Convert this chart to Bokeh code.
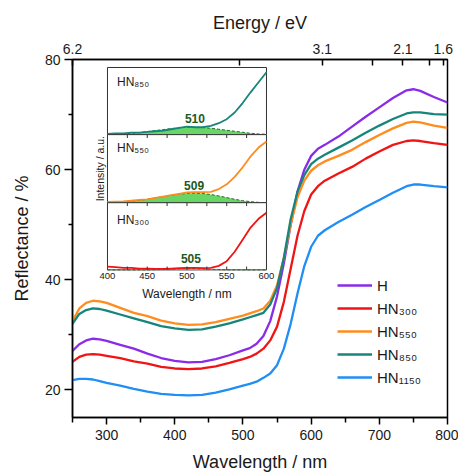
import math
from bokeh.plotting import figure
from bokeh.models import Range1d, LinearAxis, FixedTicker, Legend, LegendItem
from bokeh.core.properties import value
from bokeh.embed import file_html
from bokeh.resources import INLINE

# ---------------- main data ----------------
wavelength = [250, 260, 270, 280, 290, 300, 320, 340, 360, 380, 400, 420, 440, 460, 480,
              500, 510, 520, 530, 540, 550, 560, 570, 580, 590, 600, 610, 620, 640, 660,
              680, 700, 720, 740, 750, 760, 780, 800]

refl_H = [27.1, 28.3, 29.0, 29.3, 29.2, 28.9, 28.2, 27.5, 26.6, 25.8, 25.3, 25.0, 25.1, 25.6, 26.3,
          27.2, 27.6, 28.4, 29.8, 32.5, 37.0, 43.0, 50.0, 56.0, 60.0, 62.5, 63.8, 64.5, 66.0, 67.8,
          69.6, 71.3, 73.0, 74.4, 74.6, 74.3, 73.2, 72.2]
refl_HN300 = [25.1, 26.0, 26.4, 26.5, 26.4, 26.2, 25.8, 25.2, 24.8, 24.2, 23.9, 23.8, 23.9, 24.3, 24.9,
              25.6, 26.0, 26.6, 27.5, 29.0, 31.5, 36.0, 42.0, 48.0, 52.5, 55.5, 57.0, 58.0, 59.3, 60.5,
              62.0, 63.3, 64.5, 65.2, 65.3, 65.2, 64.8, 64.5]
refl_HN550 = [32.5, 34.8, 35.8, 36.2, 36.1, 35.8, 34.9, 34.0, 33.4, 32.6, 32.1, 31.8, 31.9, 32.3, 32.9,
              33.5, 33.9, 34.3, 34.8, 36.2, 39.0, 44.0, 50.0, 55.0, 58.0, 59.8, 60.8, 61.5, 62.5, 63.6,
              65.0, 66.3, 67.5, 68.5, 68.7, 68.6, 68.0, 67.6]
refl_HN850 = [32.0, 33.8, 34.5, 34.8, 34.7, 34.4, 33.7, 33.0, 32.3, 31.6, 31.2, 30.9, 31.0, 31.5, 32.1,
              32.8, 33.2, 33.6, 34.0, 35.5, 38.5, 44.0, 51.0, 56.0, 59.0, 61.0, 62.0, 62.7, 64.0, 65.3,
              66.7, 68.0, 69.2, 70.2, 70.4, 70.4, 70.1, 70.0]
refl_HN1150 = [21.8, 22.0, 22.0, 21.9, 21.6, 21.3, 20.8, 20.2, 19.7, 19.3, 19.1, 19.0, 19.1, 19.5, 20.1,
               20.8, 21.1, 21.5, 22.2, 23.0, 24.5, 27.5, 32.0, 37.5, 42.5, 46.0, 48.0, 49.0, 50.5, 51.8,
               53.2, 54.5, 55.8, 57.0, 57.3, 57.3, 57.0, 56.8]

series_labels = ["H", "HN₃₀₀", "HN₅₅₀", "HN₈₅₀", "HN₁₁₅₀"]
series_colors = ["#8a2be8", "#f01414", "#ff8c1e", "#17857a", "#1f8ef5"]
series_values = [refl_H, refl_HN300, refl_HN550, refl_HN850, refl_HN1150]

x_ticks = [300, 400, 500, 600, 700, 800]
x_minor = [250, 350, 450, 550, 650, 750]
y_ticks = [20, 40, 60, 80]
y_minor = [30, 50, 70]
energy_ticks = [6.2, 3.1, 2.1, 1.6]
energy_minor = [4.13, 2.48, 1.77]

# ---------------- inset data ----------------
inset_wl = [400, 410, 420, 430, 440, 450, 460, 470, 480, 490, 500, 510, 520, 530, 540, 550, 560, 570, 580, 590, 600]
inset_HN850 = [0.01, 0.02, 0.02, 0.03, 0.03, 0.04, 0.05, 0.06, 0.08, 0.10, 0.12, 0.11, 0.11, 0.13, 0.17,
               0.23, 0.33, 0.47, 0.63, 0.78, 0.93]
peak_HN850 = [0.0, 0.005, 0.01, 0.02, 0.03, 0.045, 0.06, 0.075, 0.09, 0.10, 0.11, 0.11, 0.105, 0.095, 0.08,
              0.065, 0.05, 0.035, 0.02, 0.01, 0.005]
inset_HN550 = [0.01, 0.015, 0.02, 0.03, 0.04, 0.05, 0.07, 0.09, 0.11, 0.13, 0.15, 0.155, 0.155, 0.16, 0.20,
               0.27, 0.38, 0.52, 0.68, 0.81, 0.90]
peak_HN550 = [0.0, 0.01, 0.015, 0.025, 0.035, 0.05, 0.07, 0.09, 0.11, 0.125, 0.135, 0.14, 0.135, 0.12, 0.10,
              0.075, 0.05, 0.03, 0.015, 0.005, 0.0]
inset_HN300 = [0.05, 0.04, 0.03, 0.03, 0.02, 0.02, 0.015, 0.015, 0.02, 0.025, 0.03, 0.03, 0.025, 0.03, 0.06,
               0.13, 0.27, 0.45, 0.63, 0.76, 0.85]
peak_HN300 = [0.0, 0.0, 0.0, 0.0, 0.0, 0.0, 0.002, 0.005, 0.01, 0.015, 0.02, 0.02, 0.015, 0.01, 0.005,
              0.002, 0.0, 0.0, 0.0, 0.0, 0.0]
inset_labels = ["HN₈₅₀", "HN₅₅₀", "HN₃₀₀"]
peak_labels = ["510", "509", "505"]
peak_pos = [510, 509, 505]
inset_ticks = [400, 450, 500, 550, 600]
inset_minor = [425, 450, 475, 500, 525, 550, 575]

FONT = "Liberation Sans"
TXT = "#1a1a1a"

p = figure(width=458, height=476, x_range=Range1d(250, 800), y_range=Range1d(15, 80),
           output_backend="svg", toolbar_location=None,
           min_border_left=72, min_border_right=11, min_border_top=59, min_border_bottom=59,
           x_axis_label="Wavelength / nm", y_axis_label="Reflectance / %")
p.grid.visible = False
p.outline_line_color = "black"
p.outline_line_width = 1.5
p.background_fill_color = "white"

for ax in (p.xaxis[0], p.yaxis[0]):
    ax.axis_line_width = 1.5
    ax.major_tick_line_width = 1.5
    ax.minor_tick_line_width = 1.5
    ax.major_tick_in = 0
    ax.minor_tick_in = 0
    ax.major_label_text_font = FONT
    ax.major_label_text_font_size = "14px"
    ax.major_label_text_color = TXT
    ax.axis_label_text_font = FONT
    ax.axis_label_text_font_size = "18px"
    ax.axis_label_text_font_style = "normal"
    ax.axis_label_text_color = TXT

p.xaxis[0].ticker = FixedTicker(ticks=x_ticks, minor_ticks=x_minor)
p.xaxis[0].major_tick_out = 7
p.xaxis[0].minor_tick_out = 5
p.xaxis[0].major_label_standoff = 5
p.xaxis[0].axis_label_standoff = 9
p.yaxis[0].ticker = FixedTicker(ticks=y_ticks, minor_ticks=y_minor)
p.yaxis[0].major_tick_out = 8
p.yaxis[0].minor_tick_out = 4
p.yaxis[0].major_label_standoff = 4
p.yaxis[0].axis_label_standoff = 10

p.extra_x_ranges = {"energy": Range1d(6.2, 1.547)}
top = LinearAxis(x_range_name="energy", axis_label="Energy / eV",
                 ticker=FixedTicker(ticks=energy_ticks, minor_ticks=energy_minor))
top.major_label_overrides = {t: str(t) for t in energy_ticks}
top.axis_line_width = 1.5
top.major_tick_line_width = 1.5
top.minor_tick_line_width = 1.5
top.major_tick_in = 6
top.major_tick_out = 0
top.minor_tick_in = 6
top.minor_tick_out = 0
top.major_label_standoff = 6
top.axis_label_standoff = 8
top.major_label_text_font = FONT
top.major_label_text_font_size = "14px"
top.major_label_text_color = TXT
top.axis_label_text_font = FONT
top.axis_label_text_font_size = "18px"
top.axis_label_text_font_style = "normal"
top.axis_label_text_color = TXT
p.add_layout(top, "above")

renderers = []
for lab, col, vals in zip(series_labels, series_colors, series_values):
    r = p.line(wavelength, vals, line_color=col, line_width=2.3)
    renderers.append(r)

legend = Legend(items=[LegendItem(label=l, renderers=[r]) for l, r in zip(series_labels, renderers)],
                location=(265, 30), padding=0, margin=0, spacing=3,
                glyph_width=35, glyph_height=20, label_standoff=5,
                label_text_font=FONT, label_text_font_size="15px", label_text_color=TXT,
                border_line_color=None, background_fill_alpha=0)
p.add_layout(legend)

# ---------------- inset (sub-coordinates) ----------------
panel_targets = [(66.36, 78.55), (54.0, 66.36), (41.8, 54.0)]
panel_curves = [inset_HN850, inset_HN550, inset_HN300]
panel_peaks = [peak_HN850, peak_HN550, peak_HN300]
panel_colors = [series_colors[3], series_colors[2], series_colors[1]]
label_y = [0.78, 0.80, 0.74]
peak_y = [0.24, 0.25, 0.17]

for i in range(3):
    s = p.subplot(x_source=Range1d(400, 600), y_source=Range1d(0, 1),
                  x_target=Range1d(301.3, 534.5), y_target=Range1d(*panel_targets[i]))
    s.quad(left=[400], right=[600], bottom=[0], top=[1], fill_color="white",
           line_color="#333333", line_width=1)
    s.varea(x=inset_wl, y1=0, y2=panel_peaks[i], fill_color="#4ccf4c", fill_alpha=0.85)
    s.line(inset_wl, panel_peaks[i], line_color="#2a6a2a", line_width=1, line_dash="3 2")
    s.line(inset_wl, panel_curves[i], line_color=panel_colors[i], line_width=1.8)
    s.text(x=[412], y=[label_y[i]], text=[inset_labels[i]], text_font=value(FONT),
           text_font_size="12px", text_baseline="middle", text_align="left", text_color=TXT)
    s.text(x=[peak_pos[i]], y=[peak_y[i]], text=[peak_labels[i]], text_font=value(FONT),
           text_font_size="12px", text_font_style="bold", text_baseline="middle",
           text_align="center", text_color="#1d5a1d")
    if i > 0:
        s.segment(x0=inset_minor, y0=[1] * len(inset_minor), x1=inset_minor,
                  y1=[0.95] * len(inset_minor), line_color="#333333", line_width=1)
    if i == 2:
        s.segment(x0=inset_minor, y0=[0] * len(inset_minor), x1=inset_minor,
                  y1=[0.05] * len(inset_minor), line_color="#333333", line_width=1)
        s.text(x=inset_ticks, y=[-0.05] * len(inset_ticks), text=[str(t) for t in inset_ticks],
               text_font=value(FONT), text_font_size="9.5px", text_baseline="top",
               text_align="center", text_color=TXT)
        s.text(x=[500], y=[-0.36], text=["Wavelength / nm"], text_font=value(FONT),
               text_font_size="12px", text_baseline="middle", text_align="center",
               text_color=TXT)
    if i == 1:
        s.text(x=[390], y=[0.5], text=["Intensity / a.u."], angle=math.pi / 2,
               text_font=value(FONT), text_font_size="10.5px", text_baseline="middle",
               text_align="center", text_color=TXT)

open("out.html", "w").write(file_html(p, INLINE))
